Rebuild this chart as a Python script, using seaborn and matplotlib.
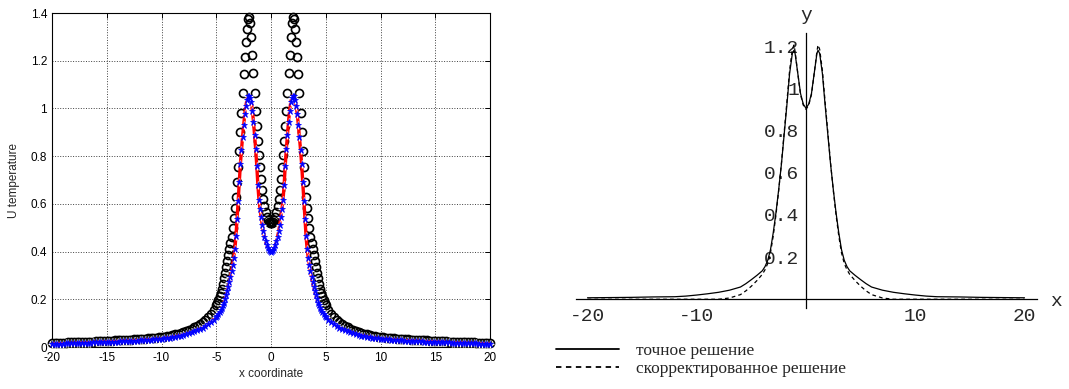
import matplotlib
matplotlib.use("Agg")
import matplotlib.pyplot as plt
from matplotlib.lines import Line2D
from matplotlib.ticker import FixedLocator
import pandas as pd
import seaborn as sns

sns.set_style("white")
plt.rcParams['font.family'] = ['Liberation Sans', 'DejaVu Sans']

# ---------------- left panel: numerical solution (MATLAB style) ----------------
x_num = [-20.0, -19.75, -19.5, -19.25, -19.0, -18.75, -18.5, -18.25, -18.0, -17.75,
         -17.5, -17.25, -17.0, -16.75, -16.5, -16.25, -16.0, -15.75, -15.5, -15.25,
         -15.0, -14.75, -14.5, -14.25, -14.0, -13.75, -13.5, -13.25, -13.0, -12.75,
         -12.5, -12.25, -12.0, -11.75, -11.5, -11.25, -11.0, -10.75, -10.5, -10.25,
         -10.0, -9.75, -9.5, -9.25, -9.0, -8.75, -8.5, -8.25, -8.0, -7.75,
         -7.5, -7.25, -7.0, -6.75, -6.5, -6.25, -6.0, -5.75, -5.5, -5.25,
         -5.0, -4.9, -4.8, -4.7, -4.6, -4.5, -4.4, -4.3, -4.2, -4.1,
         -4.0, -3.9, -3.8, -3.7, -3.6, -3.5, -3.4, -3.3, -3.2, -3.1,
         -3.0, -2.9, -2.8, -2.7, -2.6, -2.5, -2.4, -2.3, -2.2, -2.1,
         -2.0, -1.9, -1.8, -1.7, -1.6, -1.5, -1.4, -1.3, -1.2, -1.1,
         -1.0, -0.9, -0.8, -0.7, -0.6, -0.5, -0.4, -0.3, -0.2, -0.1,
         0.0,
         0.1, 0.2, 0.3, 0.4, 0.5, 0.6, 0.7, 0.8, 0.9, 1.0,
         1.1, 1.2, 1.3, 1.4, 1.5, 1.6, 1.7, 1.8, 1.9, 2.0,
         2.1, 2.2, 2.3, 2.4, 2.5, 2.6, 2.7, 2.8, 2.9, 3.0,
         3.1, 3.2, 3.3, 3.4, 3.5, 3.6, 3.7, 3.8, 3.9, 4.0,
         4.1, 4.2, 4.3, 4.4, 4.5, 4.6, 4.7, 4.8, 4.9, 5.0,
         5.25, 5.5, 5.75, 6.0, 6.25, 6.5, 6.75, 7.0, 7.25, 7.5,
         7.75, 8.0, 8.25, 8.5, 8.75, 9.0, 9.25, 9.5, 9.75, 10.0,
         10.25, 10.5, 10.75, 11.0, 11.25, 11.5, 11.75, 12.0, 12.25, 12.5,
         12.75, 13.0, 13.25, 13.5, 13.75, 14.0, 14.25, 14.5, 14.75, 15.0,
         15.25, 15.5, 15.75, 16.0, 16.25, 16.5, 16.75, 17.0, 17.25, 17.5,
         17.75, 18.0, 18.25, 18.5, 18.75, 19.0, 19.25, 19.5, 19.75, 20.0]

# black circles
u_circles = [0.016, 0.016, 0.017, 0.017, 0.018, 0.018, 0.019, 0.019, 0.020, 0.020,
             0.021, 0.021, 0.022, 0.022, 0.023, 0.023, 0.024, 0.025, 0.025, 0.026,
             0.026, 0.027, 0.027, 0.028, 0.028, 0.029, 0.029, 0.030, 0.031, 0.031,
             0.032, 0.032, 0.033, 0.034, 0.035, 0.036, 0.037, 0.038, 0.039, 0.040,
             0.041, 0.043, 0.045, 0.048, 0.050, 0.053, 0.056, 0.059, 0.062, 0.066,
             0.071, 0.076, 0.082, 0.088, 0.095, 0.103, 0.112, 0.124, 0.138, 0.155,
             0.174, 0.185, 0.197, 0.212, 0.228, 0.245, 0.265, 0.290, 0.310, 0.335,
             0.360, 0.385, 0.410, 0.435, 0.463, 0.500, 0.540, 0.583, 0.630, 0.690,
             0.755, 0.820, 0.900, 0.980, 1.065, 1.145, 1.215, 1.280, 1.335, 1.375,
             1.385, 1.360, 1.300, 1.225, 1.150, 1.065, 0.990, 0.925, 0.862, 0.805,
             0.755, 0.705, 0.660, 0.622, 0.590, 0.565, 0.547, 0.534, 0.526, 0.521,
             0.520,
             0.521, 0.526, 0.534, 0.547, 0.565, 0.590, 0.622, 0.660, 0.705, 0.755,
             0.805, 0.862, 0.925, 0.990, 1.065, 1.150, 1.225, 1.300, 1.360, 1.385,
             1.375, 1.335, 1.280, 1.215, 1.145, 1.065, 0.980, 0.900, 0.820, 0.755,
             0.690, 0.630, 0.583, 0.540, 0.500, 0.463, 0.435, 0.410, 0.385, 0.360,
             0.335, 0.310, 0.290, 0.265, 0.245, 0.228, 0.212, 0.197, 0.185, 0.174,
             0.155, 0.138, 0.124, 0.112, 0.103, 0.095, 0.088, 0.082, 0.076, 0.071,
             0.066, 0.062, 0.059, 0.056, 0.053, 0.050, 0.048, 0.045, 0.043, 0.041,
             0.040, 0.039, 0.038, 0.037, 0.036, 0.035, 0.034, 0.033, 0.032, 0.032,
             0.031, 0.031, 0.030, 0.029, 0.029, 0.028, 0.028, 0.027, 0.027, 0.026,
             0.026, 0.025, 0.025, 0.024, 0.023, 0.023, 0.022, 0.022, 0.021, 0.021,
             0.020, 0.020, 0.019, 0.019, 0.018, 0.018, 0.017, 0.017, 0.016, 0.016]

# red line / magenta + / blue * (they coincide)
u_exact = [0.013, 0.013, 0.014, 0.014, 0.014, 0.015, 0.015, 0.015, 0.016, 0.016,
           0.017, 0.017, 0.017, 0.018, 0.018, 0.019, 0.019, 0.020, 0.020, 0.021,
           0.021, 0.022, 0.022, 0.023, 0.023, 0.024, 0.025, 0.025, 0.026, 0.026,
           0.027, 0.027, 0.028, 0.029, 0.029, 0.030, 0.031, 0.032, 0.032, 0.033,
           0.034, 0.036, 0.037, 0.039, 0.041, 0.043, 0.046, 0.048, 0.051, 0.054,
           0.058, 0.062, 0.066, 0.070, 0.075, 0.081, 0.087, 0.095, 0.104, 0.115,
           0.127, 0.132, 0.138, 0.145, 0.153, 0.163, 0.174, 0.186, 0.200, 0.216,
           0.233, 0.252, 0.272, 0.295, 0.318, 0.345, 0.375, 0.410, 0.465, 0.535,
           0.610, 0.690, 0.765, 0.825, 0.880, 0.930, 0.975, 1.010, 1.035, 1.050,
           1.054, 1.045, 1.025, 0.990, 0.945, 0.890, 0.830, 0.760, 0.680, 0.617,
           0.578, 0.543, 0.512, 0.485, 0.462, 0.443, 0.428, 0.416, 0.407, 0.402,
           0.400,
           0.402, 0.407, 0.416, 0.428, 0.443, 0.462, 0.485, 0.512, 0.543, 0.578,
           0.617, 0.680, 0.760, 0.830, 0.890, 0.945, 0.990, 1.025, 1.045, 1.054,
           1.050, 1.035, 1.010, 0.975, 0.930, 0.880, 0.825, 0.765, 0.690, 0.610,
           0.535, 0.465, 0.410, 0.375, 0.345, 0.318, 0.295, 0.272, 0.252, 0.233,
           0.216, 0.200, 0.186, 0.174, 0.163, 0.153, 0.145, 0.138, 0.132, 0.127,
           0.115, 0.104, 0.095, 0.087, 0.081, 0.075, 0.070, 0.066, 0.062, 0.058,
           0.054, 0.051, 0.048, 0.046, 0.043, 0.041, 0.039, 0.037, 0.036, 0.034,
           0.033, 0.032, 0.032, 0.031, 0.030, 0.029, 0.029, 0.028, 0.027, 0.027,
           0.026, 0.026, 0.025, 0.025, 0.024, 0.023, 0.023, 0.022, 0.022, 0.021,
           0.021, 0.020, 0.020, 0.019, 0.019, 0.018, 0.018, 0.017, 0.017, 0.017,
           0.016, 0.016, 0.015, 0.015, 0.015, 0.014, 0.014, 0.014, 0.013, 0.013]

left_xticks = [-20, -15, -10, -5, 0, 5, 10, 15, 20]
left_yticks = [0, 0.2, 0.4, 0.6, 0.8, 1.0, 1.2, 1.4]
left_ylabels = ['0', '0.2', '0.4', '0.6', '0.8', '1', '1.2', '1.4']

# ---------------- right panel: exact vs corrected (Mathematica style) ----------------
x_ref = [-20, -18, -16, -14, -12, -11, -10, -9, -8, -7, -6, -5.5, -5, -4.5, -4,
         -3.75, -3.5, -3.25, -3, -2.75, -2.5, -2.25, -2, -1.75, -1.5, -1.25, -1.1,
         -1, -0.75, -0.5, -0.25, 0, 0.25, 0.5, 0.75, 1, 1.1, 1.25, 1.5, 1.75, 2,
         2.25, 2.5, 2.75, 3, 3.25, 3.5, 3.75, 4, 4.5, 5, 5.5, 6, 7, 8, 9, 10, 11,
         12, 14, 16, 18, 20]
y_exact = [0.007, 0.008, 0.009, 0.011, 0.012, 0.015, 0.020, 0.026, 0.033, 0.043,
           0.058, 0.074, 0.093, 0.113, 0.135, 0.155, 0.185, 0.235, 0.315, 0.41,
           0.52, 0.64, 0.78, 0.92, 1.07, 1.165, 1.18, 1.165, 1.07, 0.975, 0.925,
           0.905,
           0.925, 0.975, 1.07, 1.165, 1.18, 1.165, 1.07, 0.92, 0.78, 0.64, 0.52,
           0.41, 0.315, 0.235, 0.185, 0.155, 0.135, 0.113, 0.093, 0.074, 0.058,
           0.043, 0.033, 0.026, 0.020, 0.015, 0.012, 0.011, 0.009, 0.008, 0.007]
y_corr = [0.0, 0.0, 0.0, 0.0, 0.0, 0.0, 0.0, 0.0, 0.0, 0.006,
          0.022, 0.04, 0.062, 0.088, 0.118, 0.14, 0.17, 0.22, 0.30, 0.40,
          0.515, 0.645, 0.79, 0.935, 1.085, 1.185, 1.205, 1.175, 1.07, 0.97, 0.92,
          0.90,
          0.92, 0.97, 1.07, 1.175, 1.205, 1.185, 1.085, 0.935, 0.79, 0.645, 0.515,
          0.40, 0.30, 0.22, 0.17, 0.14, 0.118, 0.088, 0.062, 0.04, 0.022,
          0.006, 0.0, 0.0, 0.0, 0.0, 0.0, 0.0, 0.0, 0.0, 0.0]

right_xticks = [-20, -10, 10, 20]
right_xminor = [-18, -16, -14, -12, -8, -6, -4, -2, 2, 4, 6, 8, 12, 14, 16, 18]
right_yticks = [0.2, 0.4, 0.6, 0.8, 1.0, 1.2]
right_ylabels = ['0.2', '0.4', '0.6', '0.8', '1', '1.2']
right_yminor = [0.05, 0.1, 0.15, 0.25, 0.3, 0.35, 0.45, 0.5, 0.55, 0.65, 0.7, 0.75,
                0.85, 0.9, 0.95, 1.05, 1.1, 1.15, 1.25]
legend_labels = ['точное решение', 'скорректированное решение']

df_num = pd.DataFrame({'x': x_num, 'circ': u_circles, 'exact': u_exact})
df_ref = pd.DataFrame({'x': x_ref, 'exact': y_exact, 'corr': y_corr})

W, H = 1069, 389
fig = plt.figure(figsize=(W / 100, H / 100), dpi=100)

# ---- left axes ----
ax1 = fig.add_axes([52 / W, 1 - 347 / H, 438 / W, 334 / H])
ax1.set_axisbelow(True)
sns.lineplot(data=df_num, x='x', y='circ', ax=ax1, estimator=None, sort=False,
             linestyle='none', marker='o', markersize=5.8, markerfacecolor='none',
             markeredgecolor='black', markeredgewidth=1.2, color='black',
             clip_on=False, zorder=3)
sns.lineplot(data=df_num, x='x', y='exact', ax=ax1, estimator=None, sort=False,
             color='red', linewidth=2.4, zorder=4)
sns.lineplot(data=df_num, x='x', y='exact', ax=ax1, estimator=None, sort=False,
             linestyle='none', marker='+', markersize=6, markeredgewidth=1.0,
             color='magenta', clip_on=False, zorder=5)
sns.lineplot(data=df_num, x='x', y='exact', ax=ax1, estimator=None, sort=False,
             linestyle='none', marker='*', markersize=5, markeredgewidth=0.5,
             color='blue', markeredgecolor='blue', clip_on=False, zorder=6)

ax1.set_xlim(-20, 20)
ax1.set_ylim(0, 1.4)
ax1.set_xticks(left_xticks)
ax1.set_xticklabels([str(t) for t in left_xticks])
ax1.set_yticks(left_yticks)
ax1.set_yticklabels(left_ylabels)
ax1.tick_params(direction='in', top=True, right=True, length=3.5, width=0.7,
                labelsize=8.5, colors='black')
ax1.grid(True, linestyle=':', color='0.25', linewidth=0.7)
for s in ax1.spines.values():
    s.set_color('black')
    s.set_linewidth(0.8)
ax1.set_xlabel('x coordinate', fontsize=8.5, labelpad=3)
ax1.set_ylabel('U temperature', fontsize=8.5, labelpad=8)

# ---- right axes ----
mono = 'Liberation Mono'
ax2 = fig.add_axes([575.5 / W, 1 - 307.7 / H, 461 / W, 274.3 / H])
sns.lineplot(data=df_ref, x='x', y='exact', ax=ax2, estimator=None, sort=False,
             color='black', linewidth=0.9)
sns.lineplot(data=df_ref, x='x', y='corr', ax=ax2, estimator=None, sort=False,
             color='black', linewidth=0.9, linestyle=(0, (3, 2.5)))
ax2.set_xlim(-21.1, 21.1)
ax2.set_ylim(-0.04, 1.26)
ax2.spines['left'].set_position(('data', 0))
ax2.spines['bottom'].set_position(('data', 0))
ax2.spines['top'].set_visible(False)
ax2.spines['right'].set_visible(False)
for s in ('left', 'bottom'):
    ax2.spines[s].set_color('black')
    ax2.spines[s].set_linewidth(0.9)
ax2.set_xticks(right_xticks)
ax2.set_xticklabels(['-20', '-10', '10', '20'], fontfamily=mono, fontsize=14)
ax2.xaxis.set_minor_locator(FixedLocator(right_xminor))
ax2.set_yticks(right_yticks)
ax2.set_yticklabels(right_ylabels, fontfamily=mono, fontsize=14)
ax2.yaxis.set_minor_locator(FixedLocator(right_yminor))
ax2.tick_params(axis='both', which='major', direction='in', length=4.5, width=0.7)
ax2.tick_params(axis='both', which='minor', direction='in', length=2.5, width=0.6)
ax2.tick_params(axis='x', which='major', pad=6.5)
ax2.tick_params(axis='y', which='major', pad=5)
ax2.set_xlabel('')
ax2.set_ylabel('')
ax2.text(0, 1.345, 'y', ha='center', va='center', fontfamily=mono, fontsize=14,
         clip_on=False)
ax2.text(22.9, -0.012, 'x', ha='center', va='center', fontfamily=mono, fontsize=14,
         clip_on=False)

handles = [Line2D([], [], color='black', linewidth=1.3),
           Line2D([], [], color='black', linewidth=1.3, linestyle=(0, (3, 2.5)))]
fig.legend(handles, legend_labels, loc='upper left',
           bbox_to_anchor=(556 / W, 1 - 343 / H), frameon=False,
           prop={'family': 'Liberation Serif', 'size': 12.5},
           handlelength=3.6, handletextpad=1.0, labelspacing=0.12,
           borderpad=0, borderaxespad=0)

fig.savefig('out.png', dpi=100)
